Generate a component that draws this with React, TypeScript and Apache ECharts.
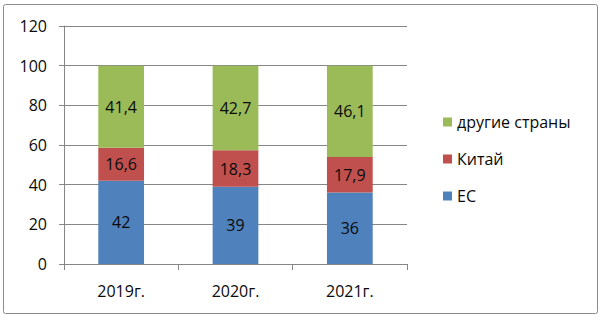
import React, { useEffect, useRef } from "react";
import * as echarts from "echarts";

const categories = ["2019г.", "2020г.", "2021г."];
const euValues = [42, 39, 36];
const chinaValues = [16.6, 18.3, 17.9];
const otherValues = [41.4, 42.7, 46.1];
const seriesNames = ["ЕС", "Китай", "другие страны"];
const colors = ["#4F81BD", "#C0504D", "#9BBB59"];

const FONT = "'Open Sans', 'Liberation Sans', sans-serif";

export default function App() {
  const ref = useRef<HTMLDivElement>(null);
  useEffect(() => {
    if (!ref.current) return;
    const chart = echarts.init(ref.current, undefined, { renderer: "svg" });
    const fmt = (p: any) => String(p.value).replace(".", ",");
    const mk = (name: string, data: number[], color: string) => ({
      name,
      type: "bar",
      stack: "total",
      data,
      barWidth: "40%",
      itemStyle: { color },
      label: {
        show: true,
        position: "inside",
        formatter: fmt,
        color: "#0a0a0a",
        fontSize: 16,
        fontFamily: FONT,
      },
    });
    chart.setOption({
      animation: false,
      textStyle: { fontFamily: FONT },
      graphic: [
        {
          type: "rect",
          shape: { x: 3.5, y: 4.5, width: 594, height: 309, r: 2 },
          style: { fill: "none", stroke: "#8c8c8c", lineWidth: 1 },
          silent: true,
        },
      ],
      grid: { left: 64, right: 195, top: 26, bottom: 55 },
      legend: {
        orient: "vertical",
        left: 438,
        top: 109,
        itemWidth: 9,
        itemHeight: 9,
        itemGap: 21,
        icon: "rect",
        data: ["другие страны", "Китай", "ЕС"],
        textStyle: { fontSize: 16, color: "#0a0a0a", fontFamily: FONT },
      },
      xAxis: {
        type: "category",
        data: categories,
        axisLine: { lineStyle: { color: "#868686" } },
        axisTick: { show: true, length: 6, lineStyle: { color: "#868686" } },
        axisLabel: { fontSize: 16, color: "#0a0a0a", margin: 19, fontFamily: FONT },
      },
      yAxis: {
        type: "value",
        min: 0,
        max: 120,
        interval: 20,
        axisLine: { show: true, lineStyle: { color: "#868686" } },
        axisTick: { show: true, length: 5, lineStyle: { color: "#868686" } },
        splitLine: { show: true, lineStyle: { color: "#868686" } },
        axisLabel: { fontSize: 16, color: "#0a0a0a", margin: 17, fontFamily: FONT },
      },
      series: [
        mk(seriesNames[0], euValues, colors[0]),
        mk(seriesNames[1], chinaValues, colors[1]),
        mk(seriesNames[2], otherValues, colors[2]),
      ],
    });
    return () => chart.dispose();
  }, []);
  return (
    <div
      ref={ref}
      style={{ position: "fixed", left: 0, top: 0, width: 602, height: 319, background: "#fff" }}
    />
  );
}
